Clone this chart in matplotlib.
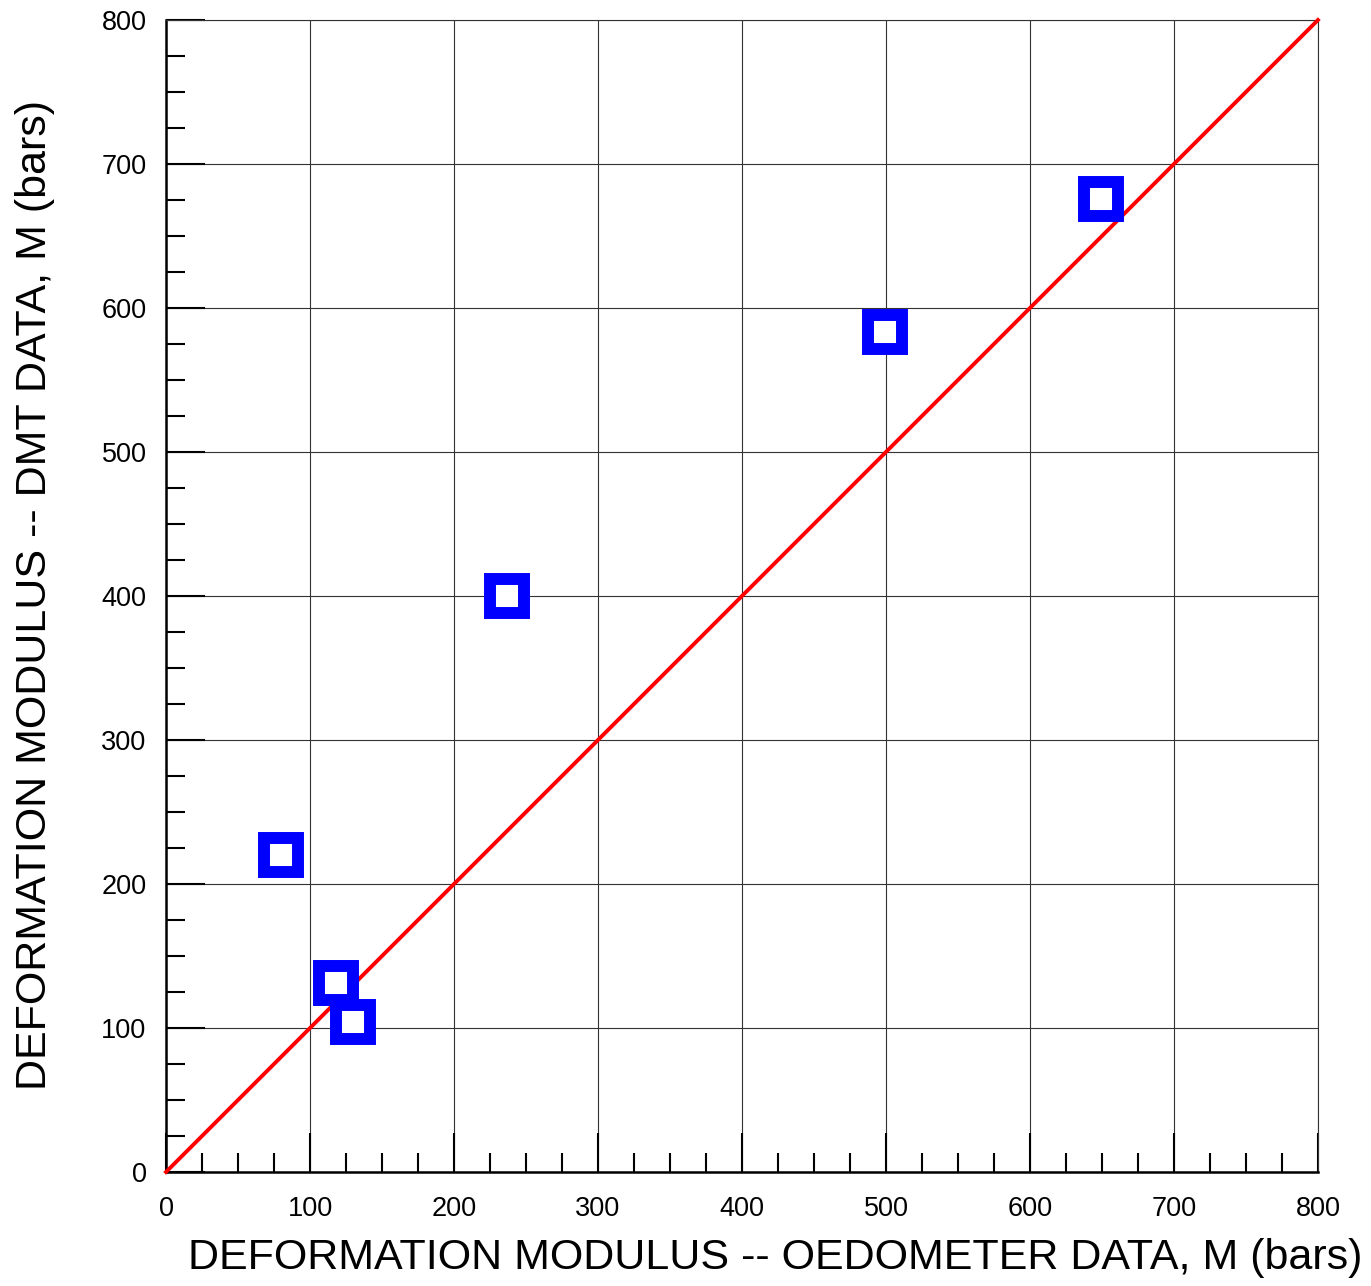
import numpy as np
import matplotlib.pyplot as plt
from matplotlib.ticker import MultipleLocator

plt.rcParams['font.family'] = ['Liberation Sans', 'DejaVu Sans']

# oedometer vs DMT modulus (bars)
oed = [80, 118, 130, 237, 499, 649]
dmt = [220, 131, 104, 400, 583, 676]
line_x = [0, 800]
line_y = [0, 800]

fig = plt.figure(figsize=(13.71, 12.86), dpi=100)
ax = fig.add_axes([0.1211, 0.08865, 0.8402, 0.8958])

ax.grid(True, which='major', color='#333333', linewidth=0.8, zorder=0)
ax.plot(line_x, line_y, color='#ff0000', linewidth=2.8, zorder=3, clip_on=False)
ax.plot(oed, dmt, linestyle='none', marker='s', markersize=24.5, markeredgewidth=8.6,
        markerfacecolor='white', markeredgecolor='#0000ff', zorder=4)

ax.set_xlim(0, 800)
ax.set_ylim(0, 800)
ax.xaxis.set_major_locator(MultipleLocator(100))
ax.yaxis.set_major_locator(MultipleLocator(100))
ax.xaxis.set_minor_locator(MultipleLocator(25))
ax.yaxis.set_minor_locator(MultipleLocator(25))
ax.tick_params(which='major', direction='in', length=28, width=1.5, labelsize=19.5, pad=14)
ax.tick_params(axis='x', which='major', pad=17)
ax.tick_params(which='minor', direction='in', length=14, width=1.5)

for s in ['top', 'right']:
    ax.spines[s].set_linewidth(0.8)
    ax.spines[s].set_color('#333333')
for s in ['left', 'bottom']:
    ax.spines[s].set_linewidth(1.8)

ax.set_xlabel('DEFORMATION MODULUS -- OEDOMETER DATA, M (bars)', fontsize=31, va='center')
ax.set_ylabel('DEFORMATION MODULUS -- DMT DATA, M (bars)', fontsize=31, va='center')
ax.xaxis.set_label_coords(0.5286, -0.0747)
ax.yaxis.set_label_coords(-0.1137, 0.501)

fig.savefig('out.png', dpi=100)
